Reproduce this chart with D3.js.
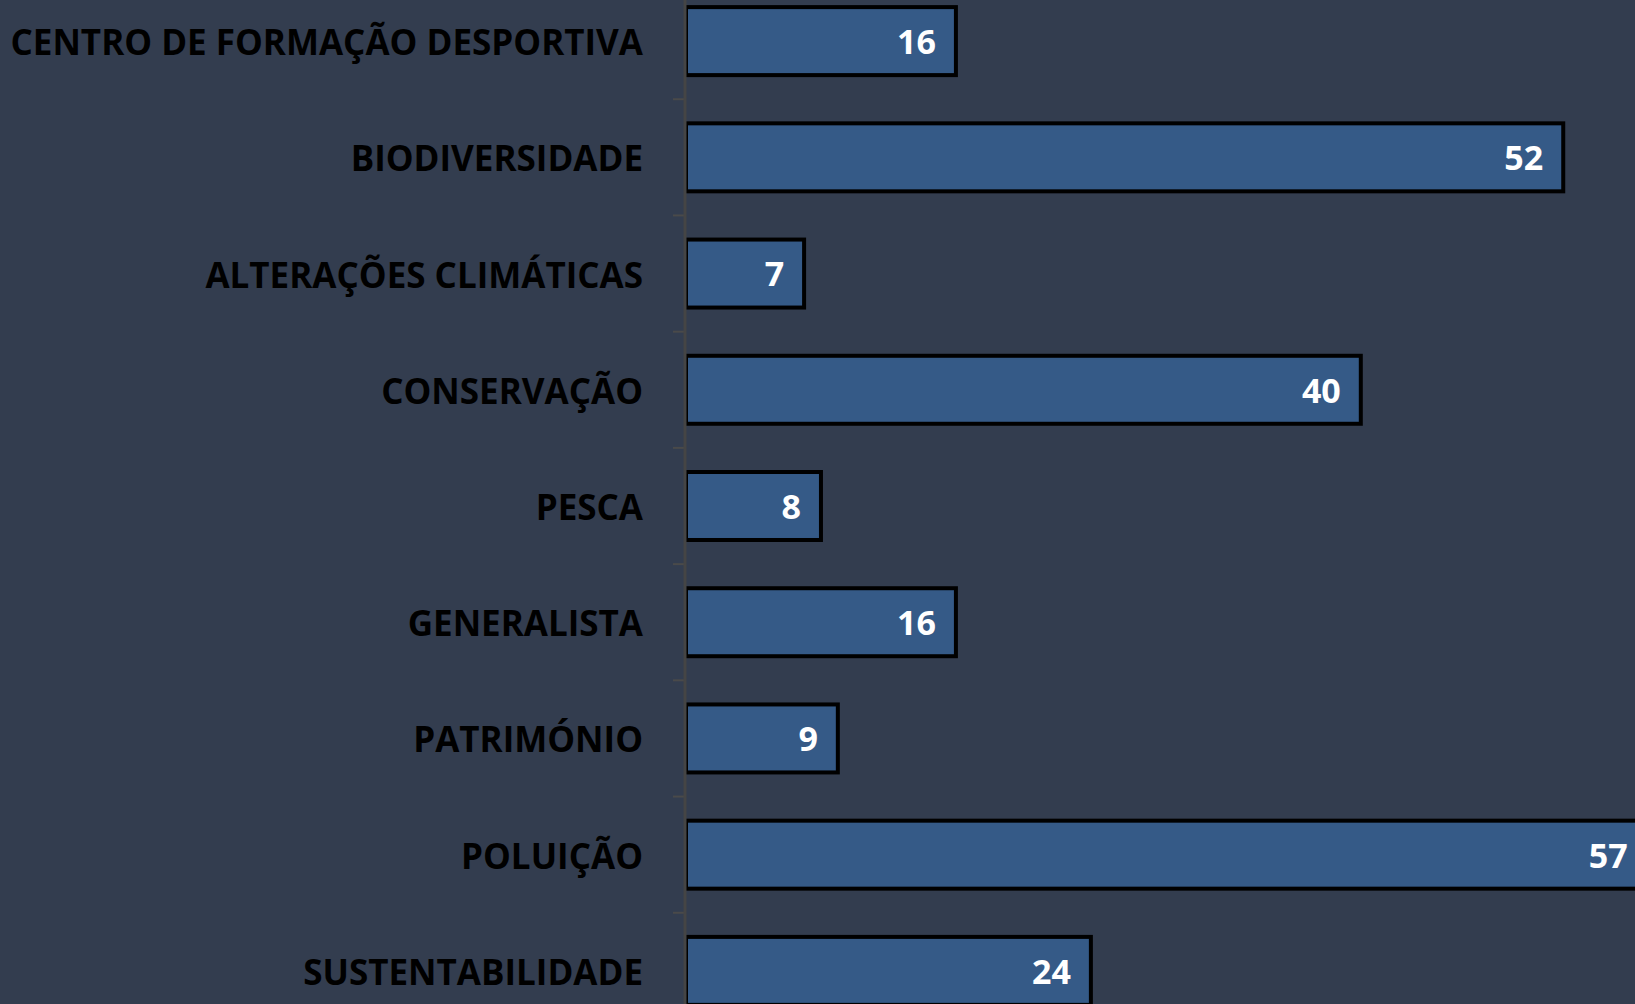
<!DOCTYPE html>
<html>
<head>
<meta charset="utf-8">
<script src="https://cdn.jsdelivr.net/npm/d3@7"></script>
<style>
  html, body { margin: 0; padding: 0; background: #333d4f; overflow: hidden; }
  svg { display: block; }
</style>
</head>
<body>
<svg id="chart" width="1635" height="1004"></svg>
<script>
// categories, top to bottom
var categories = ['CENTRO DE FORMAÇÃO DESPORTIVA', 'BIODIVERSIDADE', 'ALTERAÇÕES CLIMÁTICAS', 'CONSERVAÇÃO',
	'PESCA', 'GENERALISTA', 'PATRIMÓNIO', 'POLUIÇÃO', 'SUSTENTABILIDADE'];
var values = [16, 52, 7, 40, 8, 16, 9, 57, 24];

var W = 1635, H = 1004;
var x0 = 686;   // axis position
var svg = d3.select('#chart');

svg.append('rect').attr('width', W).attr('height', H).attr('fill', '#333d4f');

// plot runs past the picture edges (cropped chart)
var x = d3.scaleLinear().domain([0, 60]).range([x0, x0 + 60 * 16.87]);
var y = d3.scaleBand().domain(categories).range([-17, 1029]).padding(0);

var barH = y.bandwidth() * 0.585;

svg.append('g').selectAll('rect')
	.data(values)
	.enter().append('rect')
	.attr('x', x(0))
	.attr('y', function(d, i) { return y(categories[i]) + (y.bandwidth() - barH) / 2; })
	.attr('width', function(d) { return x(d) - x(0); })
	.attr('height', barH)
	.attr('fill', '#355a87')
	.attr('stroke', '#000')
	.attr('stroke-width', 4);

// value labels inside bars
svg.append('g').selectAll('text')
	.data(values)
	.enter().append('text')
	.attr('x', function(d) { return x(d) - 20; })
	.attr('y', function(d, i) { return y(categories[i]) + y.bandwidth() / 2; })
	.attr('dy', '0.38em')
	.attr('text-anchor', 'end')
	.attr('font-family', '"Open Sans", sans-serif')
	.attr('font-weight', 'bold')
	.attr('font-size', 34)
	.attr('fill', '#fff')
	.text(function(d) { return d; });

// category axis
var axis = d3.axisLeft(y).tickSize(0).tickPadding(43);
var gAxis = svg.append('g')
	.attr('transform', 'translate(' + x0 + ',0)')
	.call(axis);
gAxis.select('.domain').remove();
gAxis.selectAll('text')
	.attr('dy', '0.4em')
	.attr('font-family', '"Open Sans", sans-serif')
	.attr('font-weight', 'bold')
	.attr('font-size', 35)
	.attr('fill', '#000');

// band boundary ticks
var bounds = categories.slice(1).map(function(c) { return y(c); });
svg.append('g').selectAll('line')
	.data(bounds)
	.enter().append('line')
	.attr('x1', x0 - 13).attr('x2', x0)
	.attr('y1', function(d) { return d; }).attr('y2', function(d) { return d; })
	.attr('stroke', '#4a4a4a')
	.attr('stroke-width', 2);

svg.append('line')
	.attr('x1', x0 - 1).attr('x2', x0 - 1)
	.attr('y1', 0).attr('y2', H)
	.attr('stroke', '#454545')
	.attr('stroke-width', 3);
</script>
</body>
</html>
